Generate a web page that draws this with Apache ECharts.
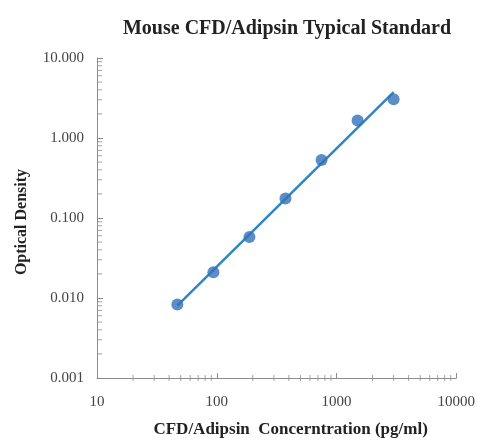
<!DOCTYPE html>
<html>
<head>
<meta charset="utf-8">
<script src="https://cdn.jsdelivr.net/npm/echarts@6/dist/echarts.min.js"></script>
<style>html,body{margin:0;padding:0;background:#fff}#c{width:478px;height:444px}</style>
</head>
<body>
<div id="c"></div>
<script>
// Data
const concentration = [46.88, 93.75, 187.5, 375, 750, 1500, 3000];
const opticalDensity = [0.0083, 0.021, 0.058, 0.175, 0.53, 1.65, 3.05];
const xTickLabels = [10, 100, 1000, 10000];
const yTickLabels = [0.001, 0.01, 0.1, 1, 10];
const xMinorTicks = [20,30,40,50,60,70,80,90,200,300,400,500,600,700,800,900,2000,3000,4000,5000,6000,7000,8000,9000];
const yMinorTicks = [0.002,0.003,0.004,0.005,0.006,0.007,0.008,0.009,0.02,0.03,0.04,0.05,0.06,0.07,0.08,0.09,0.2,0.3,0.4,0.5,0.6,0.7,0.8,0.9,2,3,4,5,6,7,8,9];

// log-log linear regression for the trend line
const lx = concentration.map(Math.log10), ly = opticalDensity.map(Math.log10);
const n = lx.length;
const mx = lx.reduce((a,b)=>a+b,0)/n, my = ly.reduce((a,b)=>a+b,0)/n;
let sxy = 0, sxx = 0;
for (let i=0;i<n;i++){ sxy += (lx[i]-mx)*(ly[i]-my); sxx += (lx[i]-mx)*(lx[i]-mx); }
const slope = sxy/sxx, icpt = my - slope*mx;
const fitX = [concentration[0], concentration[n-1]];
const fitLine = fitX.map(x => [x, Math.pow(10, icpt + slope*Math.log10(x))]);

const axisColor = '#8c8c8c';
const serif = 'Liberation Serif';
const chart = echarts.init(document.getElementById('c'));
chart.setOption({
  animation: false,
  backgroundColor: '#fff',
  title: {
    text: 'Mouse CFD/Adipsin Typical Standard',
    left: 282, top: 14, textAlign: 'center',
    textStyle: { fontFamily: serif, fontWeight: 'bold', fontSize: 20, color: '#222' }
  },
  grid: { left: 97, right: 21, top: 58, bottom: 66 },
  xAxis: {
    type: 'log', logBase: 10, min: 10, max: 10000,
    name: 'CFD/Adipsin  Concerntration (pg/ml)',
    nameLocation: 'middle', nameGap: 43,
    nameTextStyle: { fontFamily: serif, fontWeight: 'bold', fontSize: 17, color: '#222', padding:[0,0,0,28] },
    axisLine: { lineStyle: { color: axisColor, width: 1 } },
    axisTick: { inside: true, length: 5, lineStyle: { color: axisColor } },
    axisLabel: { fontFamily: serif, fontSize: 15, color: '#444', margin: 17,
      formatter: v => xTickLabels.includes(Math.round(v)) ? String(Math.round(v)) : '' },
    splitLine: { show: false }
  },
  yAxis: {
    type: 'log', logBase: 10, min: 0.001, max: 10,
    name: 'Optical Density',
    nameLocation: 'middle', nameGap: 67,
    nameTextStyle: { fontFamily: serif, fontWeight: 'bold', fontSize: 16, color: '#222', padding:[0,8,0,0] },
    axisLine: { show: true, lineStyle: { color: axisColor, width: 1 } },
    axisTick: { show: true, inside: true, length: 6, lineStyle: { color: axisColor } },
    axisLabel: { fontFamily: serif, fontSize: 15, color: '#444', margin: 13,
      formatter: v => { const m = yTickLabels.find(t => Math.abs(t - v) / t < 1e-6); return m !== undefined ? m.toFixed(3) : ''; } },
    splitLine: { show: false }
  },
  series: [
    {
      type: 'scatter', silent: true, symbol: 'rect', symbolSize: [1, 6], symbolOffset: [0, 0],
      itemStyle: { color: axisColor }, data: xMinorTicks.map(v => [v, 0.001]), z: 1
    },
    {
      type: 'scatter', silent: true, symbol: 'rect', symbolSize: [5, 1], symbolOffset: [2.5, 0],
      itemStyle: { color: axisColor }, data: yMinorTicks.map(v => [10, v]), z: 1
    },
    {
      type: 'line', data: fitLine, showSymbol: false, silent: true,
      lineStyle: { color: '#2e86c4', width: 2.5 }, z: 2
    },
    {
      type: 'scatter', data: concentration.map((x, i) => [x, opticalDensity[i]]),
      symbol: 'circle', symbolSize: 12, itemStyle: { color: '#3271b8' }, z: 3
    }
  ]
});
</script>
</body>
</html>
